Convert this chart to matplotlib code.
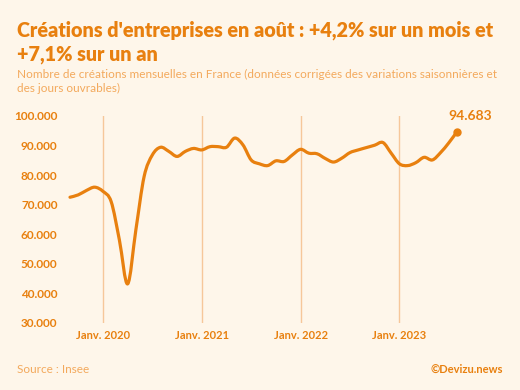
import matplotlib.pyplot as plt
import numpy as np
from matplotlib.path import Path
from matplotlib.patches import PathPatch

# monthly business creations in France, Sep 2019 -> Aug 2023 (thousands)
months = ['2019-09', '2019-10', '2019-11', '2019-12',
          '2020-01', '2020-02', '2020-03', '2020-04', '2020-05', '2020-06',
          '2020-07', '2020-08', '2020-09', '2020-10', '2020-11', '2020-12',
          '2021-01', '2021-02', '2021-03', '2021-04', '2021-05', '2021-06',
          '2021-07', '2021-08', '2021-09', '2021-10', '2021-11', '2021-12',
          '2022-01', '2022-02', '2022-03', '2022-04', '2022-05', '2022-06',
          '2022-07', '2022-08', '2022-09', '2022-10', '2022-11', '2022-12',
          '2023-01', '2023-02', '2023-03', '2023-04', '2023-05', '2023-06',
          '2023-07', '2023-08']
creations = [72.5, 73.3, 74.8, 75.9,
             74.5, 71.0, 58.0, 43.2, 61.5, 79.5,
             86.8, 89.4, 88.0, 86.3, 88.0, 89.0,
             88.5, 89.6, 89.6, 89.4, 92.5, 90.2,
             85.1, 83.8, 83.2, 84.8, 84.6, 86.8,
             88.7, 87.4, 87.2, 85.6, 84.4, 85.7,
             87.6, 88.5, 89.3, 90.1, 91.0, 87.4,
             83.8, 83.2, 84.2, 86.0, 85.1, 87.6,
             90.9, 94.683]
jan_labels = ['Janv. 2020', 'Janv. 2021', 'Janv. 2022', 'Janv. 2023']
yticks = [30, 40, 50, 60, 70, 80, 90, 100]

bg = '#fef6ea'
orange = '#e8800f'
light = '#f3a95c'
grid = '#f6c79a'

plt.rcParams['font.family'] = ['Lato', 'DejaVu Sans']

x = np.arange(len(creations))
y = np.array(creations)
jan_pos = [months.index(l.split()[1] + '-01') for l in jan_labels]

fig = plt.figure(figsize=(5.2, 3.9), dpi=100, facecolor=bg)
ax = fig.add_axes([0.1267, 0.172, 0.776, 0.5308])
ax.set_facecolor(bg)
ax.set_xlim(-0.5, 48.5)
ax.set_ylim(30, 100)

for p in jan_pos:
    ax.axvline(p, color=grid, lw=1, zorder=1)

# smooth curve through the points (Catmull-Rom as cubic Bezier)
verts = [(x[0], y[0])]
codes = [Path.MOVETO]
for i in range(len(x) - 1):
    x0, y0 = (x[i - 1], y[i - 1]) if i > 0 else (x[i], y[i])
    x3, y3 = (x[i + 2], y[i + 2]) if i + 2 < len(x) else (x[i + 1], y[i + 1])
    c1 = (x[i] + (x[i + 1] - x0) / 6, y[i] + (y[i + 1] - y0) / 6)
    c2 = (x[i + 1] - (x3 - x[i]) / 6, y[i + 1] - (y3 - y[i]) / 6)
    verts += [c1, c2, (x[i + 1], y[i + 1])]
    codes += [Path.CURVE4] * 3
ax.add_patch(PathPatch(Path(verts, codes), fill=False, edgecolor=orange,
                       lw=2.3, capstyle='round', joinstyle='round', zorder=3))
ax.plot(x[-1], y[-1], 'o', color=orange, ms=5, zorder=4)
ax.text(x[-1] + 1.6, y[-1] + 3.2, '94.683', color=orange, fontsize=10,
        fontweight='bold', ha='center', va='bottom')

for s in ax.spines.values():
    s.set_visible(False)
ax.set_yticks(yticks)
ax.set_yticklabels(['%d.000' % v for v in yticks], color=orange,
                   fontsize=8.5, fontweight='bold')
ax.set_xticks(jan_pos)
ax.set_xticklabels(jan_labels, color=orange, fontsize=8, fontweight='bold')
ax.tick_params(length=0, pad=6)
ax.tick_params(axis='x', pad=5)

fig.text(0.033, 0.947, "Créations d'entreprises en août : +4,2% sur un mois et\n+7,1% sur un an",
         color=orange, fontsize=14.2, fontweight='heavy', va='top', linespacing=1.28)
fig.text(0.033, 0.824, 'Nombre de créations mensuelles en France (données corrigées des variations saisonnières et\ndes jours ouvrables)',
         color=light, fontsize=8.5, va='top', linespacing=1.4)
fig.text(0.033, 0.052, 'Source : Insee', color=light, fontsize=8.5, va='center')
fig.text(0.967, 0.052, '©Devizu.news', color=orange, fontsize=8,
         fontweight='bold', va='center', ha='right')

fig.savefig('out.png', dpi=100, facecolor=bg)
